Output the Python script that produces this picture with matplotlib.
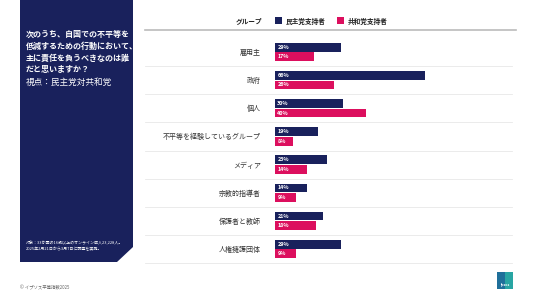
import matplotlib
matplotlib.use('Agg')
import matplotlib.pyplot as plt
from matplotlib.patches import Polygon, Rectangle
import numpy as np

plt.rcParams['font.family'] = ['Noto Sans CJK JP', 'DejaVu Sans']

# データ
categories = ['雇用主', '政府', '個人', '不平等を経験しているグループ',
              'メディア', '宗教的指導者', '保護者と教師', '人権擁護団体']
democrats = [29, 66, 30, 19, 23, 14, 21, 29]
republicans = [17, 26, 40, 8, 14, 9, 18, 9]
series_names = ['民主党支持者', '共和党支持者']

navy = '#19215c'
pink = '#dc0f5e'

W, H = 536, 302
fig = plt.figure(figsize=(W / 100, H / 100), dpi=100)

# 背景用の座標系（ピクセル）
bg = fig.add_axes([0, 0, 1, 1])
bg.set_xlim(0, W)
bg.set_ylim(H, 0)
bg.axis('off')

# 左側の紺色パネル
panel = Polygon([(20, 0), (133, 0), (133, 247), (117, 262), (20, 262)],
                closed=True, facecolor=navy, edgecolor='none')
bg.add_patch(panel)
bg.text(26, 30, '次のうち、自国での不平等を\n低減するための行動において、\n主に責任を負うべきなのは誰\nだと思いますか？',
        color='white', fontsize=5.8, fontweight='bold', va='top', ha='left',
        linespacing=1.4)
bg.text(26, 82, '視点：民主党対共和党', color='white', fontsize=6.2,
        va='center', ha='left')
bg.text(26, 246, '対象：33か国の16歳以上のオンライン成人23,228人。\n2025年2月21日から3月7日に調査を実施。',
        color='white', fontsize=2.9, va='center', ha='left', linespacing=1.5)
bg.text(20, 288, '© イプソス平等指数2025', color='#666666', fontsize=3.2,
        va='center', ha='left')

# ヘッダー
bg.text(262, 21, 'グループ', fontsize=4.8, fontweight='bold', ha='right',
        va='center', color='#222222')
bg.add_patch(Rectangle((275, 17), 7, 7, facecolor=navy))
bg.text(286, 21, series_names[0], fontsize=4.8, fontweight='bold',
        va='center', color='#222222')
bg.add_patch(Rectangle((337, 17), 7, 7, facecolor=pink))
bg.text(348, 21, series_names[1], fontsize=4.8, fontweight='bold',
        va='center', color='#222222')
bg.plot([145, 516], [30, 30], color='#bbbbbb', lw=1.2)

# 区切り線
row_h = (263 - 38) / len(categories)
for i in range(1, len(categories) + 1):
    y = 38 + row_h * i
    bg.plot([145, 512], [y, y], color='#e8e8e8', lw=0.6)

# Ipsos ロゴ
bg.add_patch(Rectangle((497, 272), 16, 17, facecolor='#1f6f9a'))
bg.add_patch(Rectangle((505, 272), 8, 17, facecolor='#2bb3a6', alpha=0.8))
bg.text(505, 285, 'Ipsos', color='white', fontsize=2.6, ha='center',
        va='center', fontweight='bold')

# 棒グラフ
ax = fig.add_axes([275 / W, 1 - 263 / H, 228 / W, (263 - 38) / H])
ax.patch.set_alpha(0)
y = np.arange(len(categories))
bh = 0.31
ax.barh(y - 0.17, democrats, height=bh, color=navy)
ax.barh(y + 0.17, republicans, height=bh, color=pink)
for i in range(len(categories)):
    ax.text(1, y[i] - 0.17, f'{democrats[i]}%', color='white', fontsize=3.9,
            fontweight='bold', va='center', ha='left')
    ax.text(1, y[i] + 0.17, f'{republicans[i]}%', color='white', fontsize=3.9,
            fontweight='bold', va='center', ha='left')
ax.set_xlim(0, 100)
ax.set_ylim(len(categories) - 0.5, -0.5)
ax.set_yticks(y)
ax.set_yticklabels(categories, fontsize=5, color='#333333')
ax.tick_params(axis='y', length=0, pad=10)
ax.set_xticks([])
for s in ax.spines.values():
    s.set_visible(False)

plt.savefig('out.png', dpi=100)
plt.close()
